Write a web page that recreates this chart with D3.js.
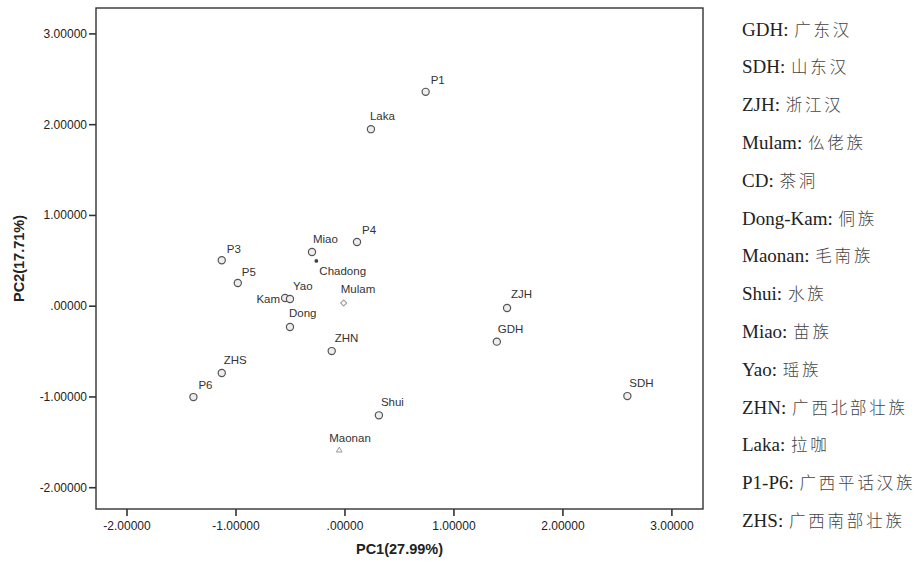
<!DOCTYPE html>
<html><head><meta charset="utf-8">
<script src="https://cdn.jsdelivr.net/npm/d3@7/dist/d3.min.js"></script>
<style>
html,body{margin:0;padding:0;background:#fff;}
svg{display:block;}
</style></head>
<body>
<script>
// ---- data ----
const names = ["P1","Laka","P3","P5","Miao","Chadong","P4","Kam","Yao","Mulam","Dong","ZHN","ZHS","P6","Shui","Maonan","ZJH","GDH","SDH"];
const pc1 =   [0.745, 0.243, -1.126, -0.979, -0.298, -0.258, 0.115, -0.545, -0.500, -0.007, -0.500, -0.117, -1.126, -1.386, 0.316, -0.048, 1.492, 1.398, 2.596];
const pc2 =   [2.356, 1.945, 0.500, 0.250, 0.592, 0.493, 0.702, 0.085, 0.074, 0.030, -0.235, -0.500, -0.742, -1.007, -1.208, -1.594, -0.025, -0.396, -0.996];
const markerType = ["circle","circle","circle","circle","circle","dot","circle","circle","circle","diamond","circle","circle","circle","circle","circle","triangle","circle","circle","circle"];
const xTicks = [-2, -1, 0, 1, 2, 3];
const yTicks = [-2, -1, 0, 1, 2, 3];
const xTitle = "PC1(27.99%)";
const yTitle = "PC2(17.71%)";
const legendCodes = ["GDH","SDH","ZJH","Mulam","CD","Dong-Kam","Maonan","Shui","Miao","Yao","ZHN","Laka","P1-P6","ZHS"];
const legendNames = ["广东汉","山东汉","浙江汉","仫佬族","茶洞","侗族","毛南族","水族","苗族","瑶族","广西北部壮族","拉咖","广西平话汉族","广西南部壮族"];

// ---- layout (label nudges in pixels, not data) ----
const labelNudge = {
  P1:[5,-12], Laka:[-1,-13], P3:[5,-11], P5:[4,-11], Miao:[1,-13], Chadong:[3,10],
  P4:[5,-12], Kam:[-5,1,"end"], Yao:[3,-13], Mulam:[-3,-14], Dong:[-1,-14], ZHN:[3,-13],
  ZHS:[2,-13], P6:[5,-12], Shui:[2,-13], Maonan:[-10,-12], ZJH:[4,-14], GDH:[1,-13], SDH:[2,-13]
};

const W = 923, H = 575;
const plot = {left:96, right:703, top:8, bottom:509};

const svg = d3.select("body").append("svg").attr("width", W).attr("height", H);
svg.append("rect").attr("width", W).attr("height", H).attr("fill", "#fff");

const x = d3.scaleLinear().domain([-2.28, 3.29]).range([plot.left, plot.right]);
const y = d3.scaleLinear().domain([-2.24, 3.28]).range([plot.bottom, plot.top]);

const fmt = v => {
  let s = d3.format(".5f")(v).replace("\u2212", "-");
  return s.replace(/^(-?)0\./, "$1.");
};

// frame
svg.append("rect")
  .attr("x", plot.left).attr("y", plot.top)
  .attr("width", plot.right - plot.left).attr("height", plot.bottom - plot.top)
  .attr("fill", "none").attr("stroke", "#333").attr("stroke-width", 1.4);

// axes
const xAxis = svg.append("g").attr("transform", `translate(0,${plot.bottom})`)
  .call(d3.axisBottom(x).tickValues(xTicks).tickFormat(fmt).tickSize(7).tickPadding(5));
const yAxis = svg.append("g").attr("transform", `translate(${plot.left},0)`)
  .call(d3.axisLeft(y).tickValues(yTicks).tickFormat(fmt).tickSize(7).tickPadding(2));
[xAxis, yAxis].forEach(g => {
  g.select(".domain").remove();
  g.selectAll(".tick line").attr("stroke", "#333").attr("stroke-width", 1.6);
  g.selectAll(".tick text").attr("fill", "#222")
    .style("font-family", "'Liberation Sans', Arial, sans-serif").style("font-size", "12px");
});

// axis titles
svg.append("text").attr("x", (plot.left + plot.right) / 2).attr("y", 554)
  .attr("text-anchor", "middle").attr("fill", "#222")
  .style("font-family", "'Liberation Sans', Arial, sans-serif").style("font-size", "14.5px").style("font-weight", "bold")
  .text(xTitle);
svg.append("text").attr("transform", `translate(24,${(plot.top + plot.bottom) / 2}) rotate(-90)`)
  .attr("text-anchor", "middle").attr("fill", "#222")
  .style("font-family", "'Liberation Sans', Arial, sans-serif").style("font-size", "14.5px").style("font-weight", "bold")
  .text(yTitle);

// points
const pts = names.map((n, i) => ({name: n, px: pc1[i], py: pc2[i], type: markerType[i]}));
const g = svg.append("g");
pts.forEach(d => {
  const cx = x(d.px), cy = y(d.py);
  if (d.type === "circle") {
    g.append("circle").attr("cx", cx).attr("cy", cy).attr("r", 3.6)
      .attr("fill", "#eeeeee").attr("stroke", "#555").attr("stroke-width", 1.2);
  } else if (d.type === "dot") {
    g.append("circle").attr("cx", cx).attr("cy", cy).attr("r", 1.9).attr("fill", "#444");
  } else if (d.type === "diamond") {
    g.append("path").attr("transform", `translate(${cx},${cy}) rotate(45)`)
      .attr("d", d3.symbol().type(d3.symbolSquare).size(18)())
      .attr("fill", "#fff").attr("stroke", "#999").attr("stroke-width", 1);
  } else if (d.type === "triangle") {
    g.append("path").attr("transform", `translate(${cx},${cy})`)
      .attr("d", d3.symbol().type(d3.symbolTriangle).size(14)())
      .attr("fill", "#fff").attr("stroke", "#999").attr("stroke-width", 1);
  }
  const nd = labelNudge[d.name] || [2, -13];
  g.append("text").attr("x", cx + nd[0]).attr("y", cy + nd[1] + 4)
    .attr("text-anchor", nd[2] || "start").attr("fill", "#333")
    .style("font-family", "'Liberation Sans', Arial, sans-serif").style("font-size", "11.5px")
    .text(d.name);
});

// legend
const lg = svg.append("g");
legendCodes.forEach((c, i) => {
  const t = lg.append("text").attr("x", 742).attr("y", 29 + i * 37.8 + 6.5).attr("fill", "#222");
  t.append("tspan").style("font-family", "'Liberation Serif', 'Times New Roman', serif").style("font-size", "19px")
    .text(c + ": ");
  t.append("tspan").attr("dx", 1).style("font-family", "'Noto Sans CJK SC', sans-serif").style("font-size", "16.5px")
    .style("font-weight", "300")
    .style("letter-spacing", "2.8px").attr("fill", "#444").text(legendNames[i]);
});
</script>
</body></html>
